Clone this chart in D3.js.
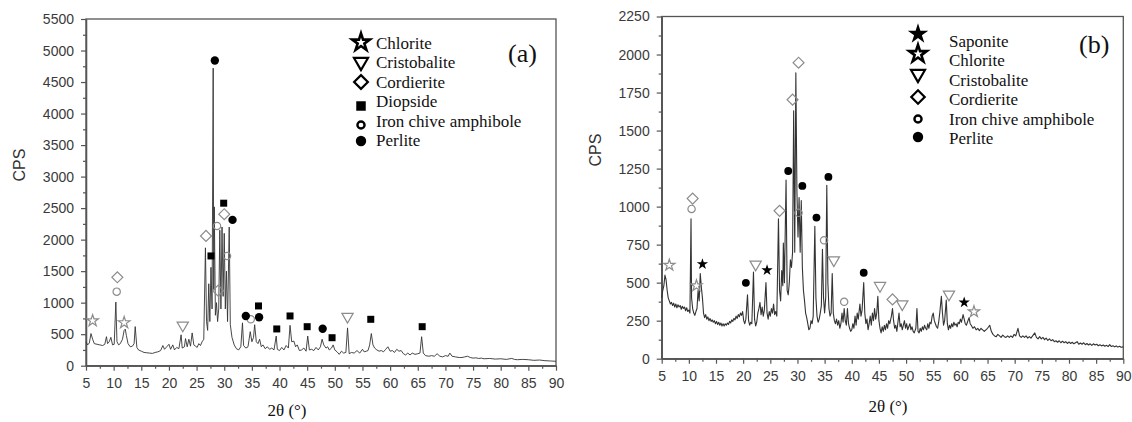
<!DOCTYPE html>
<html><head><meta charset="utf-8">
<script src="https://cdn.jsdelivr.net/npm/d3@7"></script>
<style>body{margin:0;background:#fff}</style>
</head><body><svg id="c" width="1132" height="422"></svg>
<script>
// ---------- DATA ----------
const xTicks = [5,10,15,20,25,30,35,40,45,50,55,60,65,70,75,80,85,90];
const xMinor = [7.5,12.5,17.5,22.5,27.5,32.5,37.5,42.5,47.5,52.5,57.5,62.5,67.5,72.5,77.5,82.5,87.5];
const yTicksA = [0,500,1000,1500,2000,2500,3000,3500,4000,4500,5000,5500];
const yMinorA = [250,750,1250,1750,2250,2750,3250,3750,4250,4750,5250];
const yTicksB = [0,250,500,750,1000,1250,1500,1750,2000,2250];
const yMinorB = [125,375,625,875,1125,1375,1625,1875,2125];

// panel (a) pattern [2θ, CPS]
const traceA = [[5.0,380],[5.3,330],[5.6,360],[5.9,510],[6.2,420],[6.5,350],[7.0,340],[7.5,330],[8.0,320],[8.4,340],[8.7,460],[8.9,350],[9.2,380],[9.5,450],[9.8,330],[10.1,340],[10.4,1010],[10.6,380],[10.9,330],[11.2,350],[11.6,420],[11.9,560],[12.1,580],[12.3,480],[12.6,350],[13.0,300],[13.4,310],[13.7,350],[13.9,620],[14.2,290],[14.5,250],[15.0,230],[15.5,210],[16.0,205],[16.5,200],[17.0,195],[17.5,210],[18.0,220],[18.5,240],[18.9,320],[19.2,260],[19.6,300],[20.0,340],[20.3,260],[20.7,330],[21.0,250],[21.4,290],[21.8,270],[22.2,490],[22.4,280],[22.8,300],[23.0,430],[23.3,300],[23.6,420],[23.9,310],[24.2,520],[24.5,330],[24.8,310],[25.1,290],[25.4,350],[25.7,320],[26.0,380],[26.3,420],[26.6,1870],[26.8,700],[27.0,560],[27.2,1300],[27.4,700],[27.6,1560],[27.8,900],[28.0,4720],[28.1,1200],[28.2,2520],[28.4,800],[28.6,1000],[28.8,700],[29.0,900],[29.2,2150],[29.4,900],[29.6,2200],[29.8,1100],[30.0,2100],[30.2,900],[30.4,1500],[30.6,700],[30.9,2200],[31.1,650],[31.4,450],[31.8,330],[32.2,270],[32.6,250],[33.0,300],[33.3,680],[33.5,320],[33.9,280],[34.3,300],[34.7,540],[35.0,380],[35.3,450],[35.5,650],[35.8,380],[36.1,350],[36.4,420],[36.7,300],[37.0,330],[37.4,270],[37.8,300],[38.2,260],[38.6,280],[39.0,250],[39.4,470],[39.6,260],[40.0,240],[40.4,290],[40.8,250],[41.2,320],[41.6,280],[41.9,640],[42.2,380],[42.6,390],[42.9,300],[43.2,330],[43.6,240],[44.0,250],[44.4,280],[44.8,230],[45.1,470],[45.4,250],[45.8,260],[46.2,240],[46.6,290],[47.0,250],[47.4,300],[47.7,420],[48.0,330],[48.4,280],[48.7,300],[49.0,250],[49.4,280],[49.7,330],[50.0,250],[50.4,220],[50.8,180],[51.2,230],[51.6,200],[52.0,210],[52.3,600],[52.6,190],[53.0,210],[53.5,200],[54.0,240],[54.5,200],[55.0,260],[55.3,220],[55.7,230],[56.0,240],[56.3,330],[56.6,510],[56.9,330],[57.2,280],[57.6,250],[58.0,230],[58.4,240],[58.8,220],[59.2,260],[59.6,300],[60.0,230],[60.4,240],[60.8,210],[61.2,260],[61.6,230],[62.0,240],[62.4,190],[62.8,170],[63.2,200],[63.6,170],[64.0,200],[64.5,180],[65.0,190],[65.4,200],[65.7,460],[66.0,200],[66.4,160],[67.0,150],[67.5,160],[68.0,150],[68.5,190],[69.0,150],[69.5,140],[70.0,160],[70.5,150],[70.8,200],[71.2,150],[71.8,140],[72.5,130],[73.0,130],[73.5,140],[74.0,150],[74.5,130],[75.0,120],[75.5,125],[76.0,115],[76.5,120],[77.0,110],[78.0,115],[79.0,105],[80.0,110],[81.0,100],[82.0,115],[82.5,100],[83.0,95],[84.0,100],[85.0,95],[86.0,85],[87.0,90],[88.0,80],[89.0,75],[90.0,70]];

// panel (b) pattern [2θ, CPS]
const traceB = [[5.0,400],[5.2,450],[5.4,480],[5.6,550],[5.8,520],[6.0,450],[6.2,400],[6.4,380],[6.6,360],[6.8,370],[7.0,350],[7.2,365],[7.4,340],[7.6,360],[7.8,335],[8.0,355],[8.2,340],[8.4,350],[8.6,325],[8.8,345],[9.0,330],[9.2,340],[9.4,315],[9.6,335],[9.8,310],[10.0,320],[10.2,300],[10.4,920],[10.5,400],[10.7,330],[10.9,300],[11.1,285],[11.3,310],[11.5,330],[11.7,450],[11.9,380],[12.1,560],[12.3,470],[12.5,400],[12.7,300],[12.9,270],[13.1,290],[13.3,260],[13.5,275],[13.7,250],[13.9,265],[14.1,245],[14.3,255],[14.5,240],[14.7,250],[14.9,230],[15.1,245],[15.3,225],[15.5,240],[15.7,220],[15.9,235],[16.1,215],[16.3,230],[16.5,215],[16.7,230],[16.9,220],[17.1,235],[17.3,225],[17.5,245],[17.7,235],[17.9,255],[18.1,245],[18.3,265],[18.5,255],[18.7,280],[18.9,265],[19.1,290],[19.3,275],[19.5,300],[19.7,285],[19.9,310],[20.1,250],[20.3,230],[20.5,260],[20.8,420],[21.0,250],[21.2,220],[21.4,240],[21.6,230],[21.9,570],[22.1,260],[22.3,215],[22.5,240],[22.7,300],[22.9,330],[23.1,370],[23.3,290],[23.5,340],[23.7,280],[23.9,320],[24.2,500],[24.4,300],[24.6,260],[24.8,310],[25.0,280],[25.2,330],[25.4,300],[25.6,360],[25.8,290],[26.0,310],[26.2,280],[26.5,920],[26.7,450],[26.9,380],[27.1,580],[27.3,480],[27.4,760],[27.6,500],[27.9,1175],[28.1,450],[28.3,420],[28.5,500],[28.7,650],[28.9,600],[29.1,700],[29.3,1630],[29.5,700],[29.7,1880],[29.9,1100],[30.1,800],[30.3,1060],[30.5,700],[30.7,1040],[30.9,600],[31.1,450],[31.3,380],[31.5,300],[31.7,270],[31.9,230],[32.1,190],[32.3,200],[32.5,250],[32.7,230],[32.9,280],[33.2,870],[33.4,400],[33.6,280],[33.8,240],[34.0,260],[34.2,300],[34.4,350],[34.6,720],[34.8,400],[35.0,300],[35.2,400],[35.4,1140],[35.6,500],[35.8,330],[36.0,280],[36.2,300],[36.4,560],[36.6,300],[36.8,250],[37.0,230],[37.2,260],[37.4,220],[37.6,250],[37.8,200],[38.0,230],[38.2,300],[38.4,240],[38.6,330],[38.8,250],[39.0,220],[39.2,330],[39.4,230],[39.6,200],[39.8,180],[40.0,190],[40.2,230],[40.4,200],[40.6,280],[40.8,220],[41.0,300],[41.2,260],[41.5,360],[41.7,280],[41.9,320],[42.2,500],[42.4,300],[42.6,230],[42.8,260],[43.0,190],[43.2,230],[43.4,280],[43.6,220],[43.8,300],[44.0,250],[44.2,330],[44.4,260],[44.6,300],[44.8,410],[45.0,250],[45.2,200],[45.4,170],[45.6,210],[45.8,180],[46.0,220],[46.2,190],[46.4,230],[46.6,200],[46.8,250],[47.0,230],[47.3,280],[47.5,330],[47.7,250],[47.9,200],[48.1,220],[48.3,180],[48.5,240],[48.7,300],[48.9,210],[49.1,230],[49.3,190],[49.5,220],[49.7,250],[49.9,200],[50.1,230],[50.3,190],[50.5,210],[50.7,230],[50.9,190],[51.1,210],[51.3,180],[51.5,170],[51.8,200],[52.0,330],[52.2,180],[52.4,170],[52.6,200],[52.8,180],[53.0,210],[53.2,190],[53.4,220],[53.6,200],[53.8,190],[54.0,230],[54.2,200],[54.4,240],[54.6,230],[54.8,280],[55.0,300],[55.2,250],[55.4,230],[55.6,210],[55.8,200],[56.0,240],[56.2,300],[56.5,410],[56.7,300],[56.9,220],[57.1,250],[57.4,385],[57.6,230],[57.8,190],[58.0,220],[58.2,200],[58.4,230],[58.6,210],[58.8,240],[59.0,220],[59.2,230],[59.4,210],[59.6,240],[59.8,230],[60.0,260],[60.2,240],[60.5,290],[60.7,260],[60.9,230],[61.1,220],[61.3,240],[61.6,270],[61.8,230],[62.0,220],[62.3,200],[62.6,210],[62.9,190],[63.2,200],[63.5,185],[63.8,200],[64.1,190],[64.4,180],[64.7,190],[65.0,200],[65.4,220],[65.7,180],[66.0,160],[66.3,150],[66.6,145],[66.9,160],[67.2,150],[67.5,140],[67.8,155],[68.1,145],[68.4,140],[68.7,150],[69.0,140],[69.3,150],[69.6,140],[69.9,160],[70.2,150],[70.6,200],[70.9,150],[71.2,140],[71.5,150],[71.8,140],[72.1,150],[72.4,135],[72.7,145],[73.0,135],[73.3,150],[73.7,170],[74.0,140],[74.3,130],[74.6,145],[74.9,130],[75.2,140],[75.5,125],[75.8,135],[76.1,120],[76.4,130],[76.7,118],[77.0,125],[77.3,112],[77.6,118],[77.9,108],[78.2,118],[78.5,105],[78.8,115],[79.1,105],[79.4,112],[79.7,100],[80.0,110],[80.3,100],[80.6,108],[80.9,98],[81.2,105],[81.5,112],[81.8,95],[82.1,103],[82.4,95],[82.7,105],[83.0,92],[83.3,100],[83.6,90],[83.9,98],[84.2,88],[84.5,98],[84.8,90],[85.1,95],[85.4,85],[85.7,92],[86.0,84],[86.3,90],[86.6,82],[86.9,88],[87.2,80],[87.5,92],[87.8,80],[88.1,85],[88.4,78],[88.7,84],[89.0,76],[89.3,82],[89.6,75],[90.0,78]];

// phase markers, panel (a)
const chloriteA = [[6.2,714],[11.9,683]];
const cristobaliteA = [[22.5,641],[52.3,778]];
const cordieriteA = [[10.67,1403],[26.7,2059],[28.9,1190],[30.0,2403]];
const diopsideA = [[27.6,1741],[29.9,2578],[36.2,948],[39.5,583],[41.9,789],[45.0,619],[49.5,444],[56.5,736],[65.8,619]];
const ironA = [[10.55,1175],[28.7,2217],[30.5,1741],[34.8,737]];
const perliteA = [[28.3,4841],[31.5,2313],[33.9,789],[36.3,768],[47.8,587]];
const legendA = ["Chlorite","Cristobalite","Cordierite","Diopside","Iron chive amphibole","Perlite"];

// phase markers, panel (b)
const saponiteB = [[12.5,622],[24.4,582],[60.7,370]];
const chloriteB = [[6.4,615],[11.4,480],[62.5,309]];
const cristobaliteB = [[22.3,620],[36.7,648],[45.2,480],[49.3,359],[57.9,423]];
const cordieriteB = [[10.7,1053],[26.7,972],[29.1,1703],[30.2,1946],[47.5,390]];
const ironB = [[10.5,985],[30.2,959],[34.9,779],[38.6,374]];
const perliteB = [[20.5,499],[28.3,1234],[30.9,1136],[33.5,928],[35.7,1195],[42.2,565]];
const legendB = ["Saponite","Chlorite","Cristobalite","Cordierite","Iron chive amphibole","Perlite"];

// ---------- DRAW ----------
const svg = d3.select("#c");
const SANS = "'Liberation Sans', Arial, sans-serif";
const SERIF = "'Liberation Serif', 'Times New Roman', serif";
const GRAY = "#8c8c8c";

function symPath(type, size) {
  const map = {starOpen: d3.symbolStar, starFilled: d3.symbolStar, tri: d3.symbolTriangle,
    diamond: d3.symbolSquare, square: d3.symbolSquare, ring: d3.symbolCircle, dot: d3.symbolCircle};
  return d3.symbol().type(map[type]).size(size)();
}
function drawSym(g, type, x, y, size, color, sw) {
  const rot = type === "tri" ? 180 : (type === "diamond" ? 45 : 0);
  const filled = (type === "starFilled" || type === "square" || type === "dot");
  g.append("path").attr("d", symPath(type, size))
    .attr("transform", `translate(${x},${y}) rotate(${rot})`)
    .attr("fill", filled ? color : (sw > 1.5 ? "#fff" : "none"))
    .attr("stroke", filled ? "none" : color)
    .attr("stroke-width", sw)
    .attr("stroke-linejoin", "miter");
}

function panel(cfg) {
  const g = svg.append("g");
  const x = d3.scaleLinear().domain([5, 90]).range([cfg.left, cfg.right]);
  const y = d3.scaleLinear().domain([0, cfg.yMax]).range([cfg.bottom, cfg.top]);
  const fmt = d3.format("d");

  g.append("rect").attr("x", cfg.left).attr("y", cfg.top)
    .attr("width", cfg.right - cfg.left).attr("height", cfg.bottom - cfg.top)
    .attr("fill", "none").attr("stroke", "#555").attr("stroke-width", 1.3);

  g.append("g").attr("transform", `translate(0,${cfg.bottom})`)
    .call(d3.axisBottom(x).tickValues(xTicks).tickFormat(fmt).tickSize(5).tickPadding(7).tickSizeOuter(0));
  g.append("g").attr("transform", `translate(0,${cfg.bottom})`)
    .call(d3.axisBottom(x).tickValues(xMinor).tickSize(3).tickFormat("").tickSizeOuter(0));
  g.append("g").attr("transform", `translate(${cfg.left},0)`)
    .call(d3.axisLeft(y).tickValues(cfg.yTicks).tickFormat(fmt).tickSize(5).tickPadding(7).tickSizeOuter(0));
  g.append("g").attr("transform", `translate(${cfg.left},0)`)
    .call(d3.axisLeft(y).tickValues(cfg.yMinor).tickSize(3).tickFormat("").tickSizeOuter(0));
  g.selectAll(".domain").attr("stroke", "#555").attr("stroke-width", 1.3);
  g.selectAll(".tick line").attr("stroke", "#555").attr("stroke-width", 1.2);
  g.selectAll(".tick text").attr("font-family", SANS).attr("font-size", 14).attr("fill", "#3a3a3a");

  const line = d3.line().x(d => x(d[0])).y(d => y(d[1]));
  g.append("path").datum(cfg.trace).attr("d", line)
    .attr("fill", "none").attr("stroke", "#333").attr("stroke-width", cfg.lw).attr("stroke-linejoin", "round");

  cfg.markers.forEach(m => {
    m.data.forEach(d => drawSym(g, m.type, x(d[0]), y(d[1]), m.size, m.color, 1.2));
  });

  cfg.legend.forEach((lab, i) => {
    const m = cfg.legendSyms[i];
    drawSym(g, m.type, cfg.legSymX, cfg.legSymY[i], m.size, "#000", m.sw || 2.2);
    g.append("text").attr("x", cfg.legTextX).attr("y", cfg.legTextY[i])
      .attr("dy", "0.35em").attr("font-family", SERIF).attr("font-size", 17)
      .attr("fill", "#111").text(lab);
  });

  g.append("text").attr("x", cfg.tagX).attr("y", cfg.tagY).attr("dy", "0.35em")
    .attr("font-family", SERIF).attr("font-size", 26).attr("fill", "#111").text(cfg.tag);

  g.append("text").attr("transform", `translate(${cfg.cpsX},${cfg.cpsY}) rotate(-90)`)
    .attr("text-anchor", "middle").attr("dy", "0.35em")
    .attr("font-family", SANS).attr("font-size", 16).attr("fill", "#333").text("CPS");
  g.append("text").attr("x", cfg.xlabX).attr("y", cfg.xlabY).attr("dy", "0.35em")
    .attr("text-anchor", "middle").attr("font-family", SERIF).attr("font-size", 17)
    .attr("fill", "#111").text("2θ (°)");
}

panel({
  left: 86, right: 556, top: 19, bottom: 365.7, yMax: 5500, lw: 0.9,
  yTicks: yTicksA, yMinor: yMinorA, trace: traceA,
  markers: [
    {data: chloriteA, type: "starOpen", size: 42, color: GRAY},
    {data: cristobaliteA, type: "tri", size: 55, color: GRAY},
    {data: cordieriteA, type: "diamond", size: 60, color: GRAY},
    {data: ironA, type: "ring", size: 42, color: GRAY},
    {data: diopsideA, type: "square", size: 49, color: "#000"},
    {data: perliteA, type: "dot", size: 55, color: "#000"}
  ],
  legend: legendA,
  legendSyms: [{type:"starOpen",size:95,sw:2.6},{type:"tri",size:85},{type:"diamond",size:95},
               {type:"square",size:90},{type:"ring",size:40,sw:2.4},{type:"dot",size:85}],
  legSymX: 361, legSymY: [42.5, 62, 82, 106, 125, 141],
  legTextX: 376, legTextY: [43, 62, 82, 101, 121, 140],
  tag: "(a)", tagX: 508, tagY: 53,
  cpsX: 19, cpsY: 165, xlabX: 287, xlabY: 410
});

panel({
  left: 661.7, right: 1123.3, top: 16.5, bottom: 358.7, yMax: 2250, lw: 1.1,
  yTicks: yTicksB, yMinor: yMinorB, trace: traceB,
  markers: [
    {data: chloriteB, type: "starOpen", size: 40, color: GRAY},
    {data: cristobaliteB, type: "tri", size: 55, color: GRAY},
    {data: cordieriteB, type: "diamond", size: 60, color: GRAY},
    {data: ironB, type: "ring", size: 42, color: GRAY},
    {data: saponiteB, type: "starFilled", size: 40, color: "#000"},
    {data: perliteB, type: "dot", size: 48, color: "#000"}
  ],
  legend: legendB,
  legendSyms: [{type:"starFilled",size:130},{type:"starOpen",size:95,sw:2.6},{type:"tri",size:85},
               {type:"diamond",size:90},{type:"ring",size:40,sw:2.4},{type:"dot",size:85}],
  legSymX: 918, legSymY: [34, 54, 74, 97, 119, 137],
  legTextX: 949, legTextY: [41, 60, 80, 99, 119, 138],
  tag: "(b)", tagX: 1079, tagY: 44,
  cpsX: 595, cpsY: 150, xlabX: 888, xlabY: 406
});
</script>
</body></html>
